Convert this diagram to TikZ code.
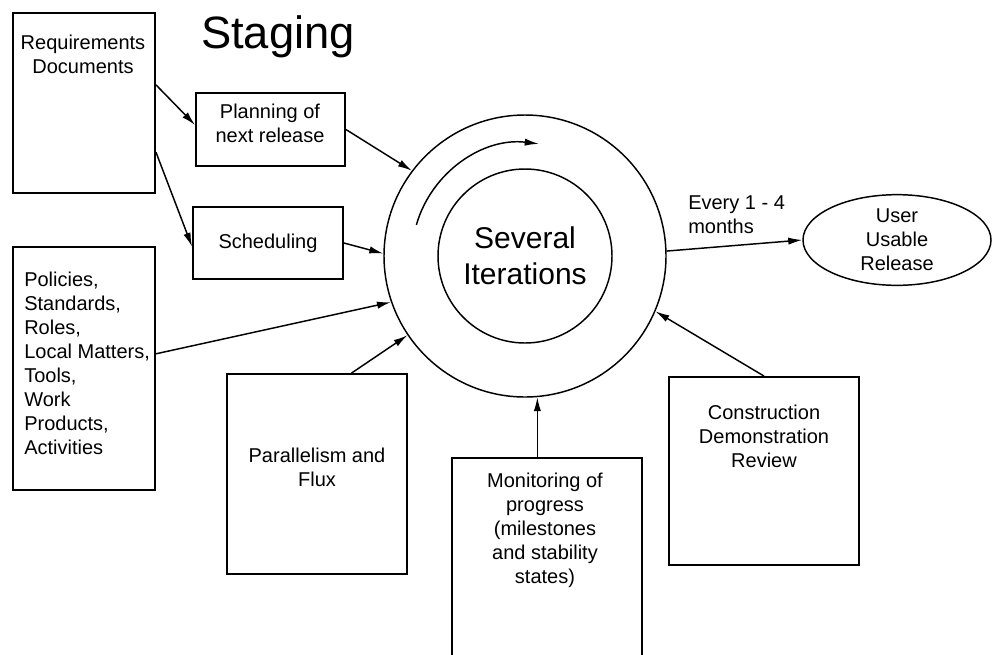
\documentclass[tikz,border=0pt]{standalone}
\usepackage{fontspec}
\setmainfont{Liberation Sans}
\usetikzlibrary{shapes, arrows.meta, positioning, calc}
\usetikzlibrary{fit}

\tikzset{
  box/.style={draw, rectangle, line width=1.4pt, inner sep=0pt},
  txt/.style={font=\fontsize{15}{18}\selectfont, align=center, inner sep=0pt},
  ring/.style={draw, circle, line width=1.1pt, inner sep=0pt},
  arr/.style={-{Latex[length=10.5pt, width=5.5pt]}, line width=1.1pt}
}

\begin{document}
\begin{tikzpicture}[x=0.75pt, y=-0.75pt]
  \useasboundingbox (0,0) rectangle (992,654);

  \node[font=\fontsize{34}{40}\selectfont, anchor=base] (title) at (278,48) {Staging};

  % boxes
  \node[box, fit={(13,13) (155,193)}] (req) {};
  \node[box, fit={(196,93) (345,166)}] (plan) {};
  \node[box, fit={(193,207) (343,279)}] (sched) {};
  \node[box, fit={(13,247) (155,490)}] (pol) {};
  \node[box, fit={(227,374) (407,574)}] (par) {};
  \node[box, fit={(452,458) (642,662)}] (mon) {};
  \node[box, fit={(669,377) (859,565)}] (con) {};

  % box texts
  \node[txt] (reqtext) at (83,54) {Requirements\\Documents};
  \node[txt] (plantext) at (270,123) {Planning of\\next release};
  \node[txt] (schedtext) at (268,243) {Scheduling};
  \node[txt, align=left, anchor=west] (poltext) at (24,363) {
    Policies,\\
    Standards,\\
    Roles,\\
    Local Matters,\\
    Tools,\\
    Work\\
    Products,\\
    Activities
  };
  \node[txt] (partext) at (317,467) {Parallelism and\\Flux};
  \node[txt] (montext) at (545,530) {Monitoring of\\progress\\(milestones\\and stability\\states)};
  \node[txt] (context) at (764,436) {Construction\\Demonstration\\Review};

  % iterations
  \node[ring, minimum size=211.5pt] (outer) at (525,256) {};
  \node[ring, minimum size=130.5pt, font=\fontsize{22.5}{27}\selectfont, align=center] (inner) at (525,256) {Several\\Iterations};
  \draw[arr] ($(outer.center)+(164:84.75pt)$) arc[start angle=164, end angle=83, radius=84.75pt];

  % release
  \node[draw, ellipse, line width=1.1pt, minimum width=141pt, minimum height=68pt, txt] (rel) at (897,240) {User\\Usable\\Release};
  \node[txt, align=left, anchor=west] (every) at (688,215) {Every 1 - 4\\months};

  % connectors
  \draw[arr] ($(req.north east)!0.4!(req.south east)$) -- ($(plan.north west)!0.44!(plan.south west)$);
  \draw[arr] ($(req.north east)!0.77!(req.south east)$) -- ($(sched.north west)!0.55!(sched.south west)$);
  \draw[arr] (plan.east) -- (outer.143);
  \draw[arr] (sched.east) -- (outer.179);
  \draw[arr] ($(pol.north east)!0.44!(pol.south east)$) -- (outer.199);
  \draw[arr] ($(par.north west)!0.69!(par.north east)$) -- (outer.214);
  \draw[arr] (mon.north -| outer.275) -- (outer.275);
  \draw[arr] (con.north) -- (outer.337);
  \draw[arr] (outer.2) -- (rel.west);
\end{tikzpicture}
\end{document}
